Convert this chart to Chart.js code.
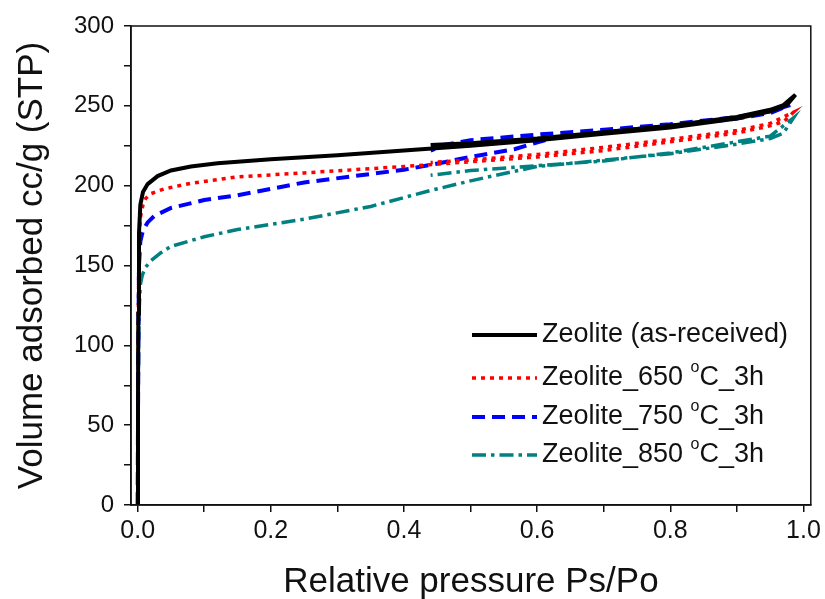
<!DOCTYPE html>
<html>
<head>
<meta charset="utf-8">
<script src="https://cdn.jsdelivr.net/npm/chart.js@4.4.1/dist/chart.umd.min.js"></script>
<style>
  html, body { margin: 0; padding: 0; background: #fff; }
  #wrap { width: 825px; height: 599px; }
</style>
</head>
<body>
<div id="wrap"><canvas id="isoChart" width="825" height="599"></canvas></div>
<script>
// ===== DATA (relative pressure -> volume adsorbed, adsorption then desorption) =====
const seriesLabels = [
  'Zeolite (as-received)',
  'Zeolite_650 °C_3h',
  'Zeolite_750 °C_3h',
  'Zeolite_850 °C_3h'
];

const asRecP = [0, 0.0005, 0.001, 0.002, 0.004, 0.008, 0.015, 0.03, 0.05, 0.08, 0.12, 0.2, 0.3, 0.4, 0.5, 0.6, 0.7, 0.8, 0.9, 0.95, 0.975, 0.988,
                0.97, 0.95, 0.9, 0.8, 0.7, 0.6, 0.5, 0.44];
const asRecV = [0, 60, 120, 170, 188, 196, 201, 206, 209.5, 212, 214, 216.5, 219, 222, 225, 228.5, 232.5, 236.5, 242, 246.5, 250.5, 257,
                250.5, 247.5, 243, 237.5, 233.5, 229.5, 226.5, 225.5];

const t650P = [0, 0.0005, 0.001, 0.002, 0.004, 0.008, 0.012, 0.02, 0.04, 0.08, 0.15, 0.25, 0.4, 0.5, 0.6, 0.7, 0.8, 0.9, 0.945, 0.97, 0.985,
               0.95, 0.9, 0.8, 0.7, 0.6, 0.5, 0.44];
const t650V = [0, 60, 120, 165, 180, 188, 192, 195, 198, 201.5, 205.5, 208, 212, 215, 218, 222, 227.5, 233, 237, 240, 246,
               239, 234.5, 229, 224, 219.5, 216, 214.5];

const t750P = [0, 0.0005, 0.001, 0.002, 0.004, 0.008, 0.015, 0.025, 0.05, 0.1, 0.15, 0.25, 0.4, 0.44, 0.5, 0.567, 0.62, 0.7, 0.8, 0.9, 0.95, 0.98,
               0.95, 0.9, 0.8, 0.7, 0.6, 0.5, 0.46, 0.44];
const t750V = [0, 50, 100, 150, 165, 172, 177, 181, 186, 191, 194, 202, 210, 213, 218, 223, 229.5, 233.5, 237.5, 242, 245.5, 250.5,
               246.5, 243, 238.5, 235, 232, 228.5, 225.5, 222];

const t850P = [0, 0.0005, 0.001, 0.002, 0.004, 0.007, 0.012, 0.02, 0.035, 0.05, 0.1, 0.15, 0.25, 0.35, 0.44, 0.5, 0.56, 0.6, 0.7, 0.8, 0.9, 0.95, 0.97, 0.985,
               0.95, 0.9, 0.8, 0.7, 0.6, 0.5, 0.44];
const t850V = [0, 40, 80, 120, 138, 144, 149, 153, 158, 162, 168, 172.5, 179, 187, 197, 203, 208.5, 212, 216, 220, 226, 229.5, 233, 242.5,
               231, 227.5, 220.5, 215.5, 212.5, 209.5, 206.5];

const xTicks = [0, 0.1, 0.2, 0.3, 0.4, 0.5, 0.6, 0.7, 0.8, 0.9, 1.0];

const FONT = "Arial, 'Liberation Sans', Helvetica, sans-serif";

function pts(P, V) {
  return P.map((p, i) => ({ x: p, y: V[i] }));
}

// box frame (top + right edges)
const framePlugin = {
  id: 'frame',
  afterDraw(chart) {
    const { ctx, chartArea: a } = chart;
    ctx.save();
    ctx.strokeStyle = '#111';
    ctx.lineWidth = 1.5;
    ctx.strokeRect(a.left, a.top, a.right - a.left, a.bottom - a.top);
    ctx.restore();
  }
};

// legend drawn inside the plot, with line samples
const insideLegend = {
  id: 'insideLegend',
  afterDraw(chart, args, opts) {
    const ctx = chart.ctx;
    ctx.save();
    chart.data.datasets.forEach((ds, i) => {
      const y = opts.rows[i];
      ctx.beginPath();
      ctx.setLineDash(ds.borderDash || []);
      ctx.strokeStyle = ds.borderColor;
      ctx.lineWidth = ds.borderWidth;
      ctx.moveTo(opts.x0, y);
      ctx.lineTo(opts.x1, y);
      ctx.stroke();

      ctx.setLineDash([]);
      ctx.fillStyle = '#111';
      ctx.textBaseline = 'middle';
      ctx.textAlign = 'left';
      const big = `27px ${FONT}`;
      const small = `16px ${FONT}`;
      const parts = ds.label.split('°');
      let x = opts.textX;
      ctx.font = big;
      ctx.fillText(parts[0], x, y);
      x += ctx.measureText(parts[0]).width;
      if (parts.length > 1) {
        ctx.font = small;
        ctx.fillText('o', x, y - 10);
        x += ctx.measureText('o').width;
        ctx.font = big;
        ctx.fillText(parts[1], x, y);
      }
    });
    ctx.restore();
  }
};

new Chart(document.getElementById('isoChart'), {
  type: 'line',
  data: {
    datasets: [
      { label: seriesLabels[0], data: pts(asRecP, asRecV), borderColor: '#000000', borderWidth: 4, borderDash: [] },
      { label: seriesLabels[1], data: pts(t650P, t650V), borderColor: '#ff0000', borderWidth: 3.5, borderDash: [4, 5] },
      { label: seriesLabels[2], data: pts(t750P, t750V), borderColor: '#0000ff', borderWidth: 4, borderDash: [13, 7] },
      { label: seriesLabels[3], data: pts(t850P, t850V), borderColor: '#008080', borderWidth: 3.5, borderDash: [14, 5, 3.5, 5] },
    ]
  },
  options: {
    responsive: false,
    animation: false,
    layout: { padding: { top: 26, right: 14, left: 0, bottom: 0 } },
    elements: {
      point: { radius: 0 },
      line: { tension: 0, fill: false }
    },
    plugins: {
      legend: { display: false },
      tooltip: { enabled: false },
      insideLegend: { x0: 472, x1: 537, textX: 542, rows: [335, 378, 417, 455] }
    },
    scales: {
      x: {
        type: 'linear',
        min: -0.01,
        max: 1.011,
        afterBuildTicks: s => { s.ticks = xTicks.map(v => ({ value: v })); },
        afterFit: s => { s.height = 94; },
        ticks: {
          autoSkip: false,
          maxRotation: 0,
          padding: 4,
          color: '#111',
          font: { family: FONT, size: 25 },
          callback: v => (Math.round(v * 10) % 2 === 0 ? v.toFixed(1) : '')
        },
        grid: { drawOnChartArea: false, drawTicks: true, tickLength: 7, color: '#111', lineWidth: 1.5 },
        border: { display: true, color: '#111', width: 1.5 },
        title: {
          display: true,
          text: 'Relative pressure Ps/Po',
          color: '#111',
          font: { family: FONT, size: 35 },
          padding: { top: 0, bottom: -4 }
        }
      },
      y: {
        min: 0,
        max: 300,
        afterFit: s => { s.width = 131; },
        ticks: {
          stepSize: 25,
          padding: 10,
          color: '#111',
          font: { family: FONT, size: 24 },
          callback: v => (v % 50 === 0 ? String(v) : '')
        },
        grid: { drawOnChartArea: false, drawTicks: true, tickLength: 7, color: '#111', lineWidth: 1.5 },
        border: { display: true, color: '#111', width: 1.5 },
        title: {
          display: true,
          text: 'Volume adsorbed cc/g (STP)',
          color: '#111',
          font: { family: FONT, size: 35 },
          padding: { top: 11, bottom: 0 }
        }
      }
    }
  },
  plugins: [framePlugin, insideLegend]
});
</script>
</body>
</html>
